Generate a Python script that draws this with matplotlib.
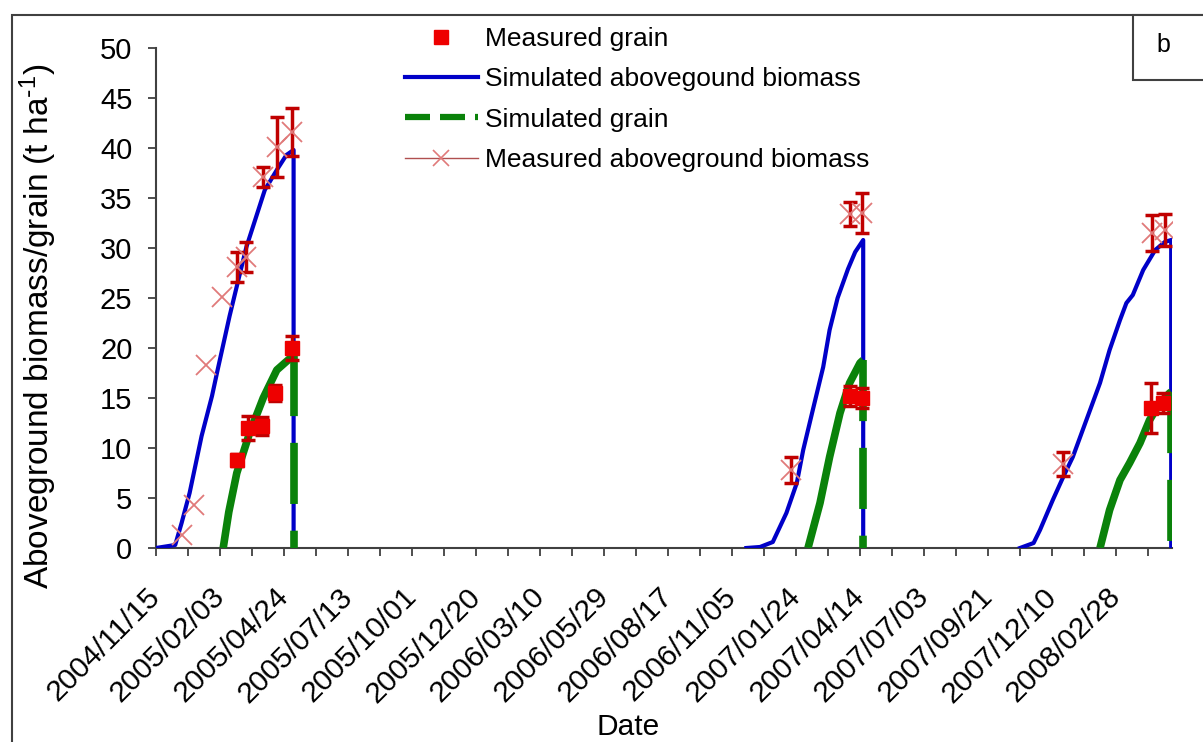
import numpy as np
import matplotlib
matplotlib.use('Agg')
import matplotlib.pyplot as plt
import matplotlib.dates as mdates
from matplotlib.lines import Line2D
from matplotlib.patches import Rectangle
from matplotlib.ticker import FixedLocator, NullFormatter

plt.rcParams['font.family'] = ['Liberation Sans', 'DejaVu Sans']
plt.rcParams['mathtext.default'] = 'regular'

START = np.datetime64('2004-11-15')

# simulated aboveground biomass (days after 2004/11/15), one list per season
bio_days_1 = [0, 24, 32, 42, 57, 70, 77, 92, 102, 113, 136, 151, 163, 172, 172]
bio_vals_1 = [0, 0.3, 2.5, 5.5, 11.2, 15.2, 17.8, 23.2, 26.5, 30.1, 35.8, 37.8, 39.3, 39.8, 0]
bio_days_2 = [738, 755, 771, 788, 801, 809, 821, 834, 842, 852, 865, 874, 884, 884]
bio_vals_2 = [0, 0.1, 0.6, 3.5, 6.5, 9.8, 13.8, 18.1, 21.8, 25.0, 27.9, 29.6, 30.8, 0]
bio_days_3 = [1080, 1097, 1105, 1121, 1134, 1146, 1163, 1180, 1192, 1205, 1213, 1221, 1234, 1249, 1261, 1269, 1269]
bio_vals_3 = [0, 0.5, 1.8, 4.8, 7.1, 9.1, 12.8, 16.5, 19.8, 22.8, 24.5, 25.3, 27.8, 29.8, 30.6, 30.8, 0]

# simulated grain
grain_days_1 = [84, 91, 101, 117, 134, 151, 168, 171, 172, 172]
grain_vals_1 = [0, 3.6, 7.5, 11.5, 15.0, 17.8, 19.0, 19.2, 19.3, 0]
grain_days_2 = [815, 830, 842, 855, 867, 880, 884, 884]
grain_vals_2 = [0, 4.5, 9.1, 13.5, 16.5, 18.5, 18.8, 0]
grain_days_3 = [1180, 1192, 1205, 1217, 1230, 1242, 1255, 1267, 1269, 1269]
grain_vals_3 = [0, 3.8, 6.8, 8.5, 10.5, 12.8, 14.5, 15.5, 15.6, 0]

# measured grain
mg_days = [101, 115, 132, 149, 170, 867, 882, 1244, 1259]
mg_vals = [8.8, 12.0, 12.2, 15.5, 20.0, 15.2, 15.0, 14.0, 14.5]
mg_err = [0.6, 1.2, 0.9, 0.8, 1.2, 1.0, 1.0, 2.5, 1.0]

# measured aboveground biomass
mb_days = [32, 47, 63, 82, 101, 113, 134, 151, 170, 794, 867, 882, 1134, 1245, 1261]
mb_vals = [1.3, 4.3, 18.3, 25.1, 28.1, 29.1, 37.1, 40.1, 41.6, 7.8, 33.4, 33.5, 8.4, 31.5, 31.8]
mb_err = [0, 0, 0, 0, 1.5, 1.5, 1.0, 3.0, 2.4, 1.3, 1.2, 2.0, 1.2, 1.8, 1.6]

label_days = list(range(0, 1201, 80))
minor_days = list(range(40, 1241, 80))
x_end = 1270

BLUE = '#0000c8'
GREEN = '#0a820a'
RED = '#ee0000'
ERR = '#c00000'
XCOL = '#e07a7a'


def to_date(days):
    return START + np.array(days).astype('timedelta64[D]')


fig = plt.figure(figsize=(12.03, 7.42), dpi=100)
ax = fig.add_axes([156 / 1203, 1 - 548 / 742, (1172 - 156) / 1203, 500 / 742])

for d, v in [(bio_days_1, bio_vals_1), (bio_days_2, bio_vals_2), (bio_days_3, bio_vals_3)]:
    ax.plot(to_date(d), v, color=BLUE, lw=3, zorder=3)

dash = (8, 3.5)
for d, v in [(grain_days_1, grain_vals_1), (grain_days_2, grain_vals_2), (grain_days_3, grain_vals_3)]:
    ax.plot(to_date(d[:-1]), v[:-1], color=GREEN, lw=5.5, zorder=4, solid_capstyle='butt')
    ax.plot(to_date(d[-2:]), v[-2:], color=GREEN, lw=5.5, zorder=4, dashes=dash, dash_capstyle='butt')

mg_d = to_date(mg_days)
ax.errorbar(mg_d, mg_vals, yerr=mg_err, fmt='none', ecolor=ERR, elinewidth=2.5,
            capsize=5, capthick=2.5, zorder=5)
ax.plot(mg_d, mg_vals, ls='none', marker='s', ms=10, color=RED, mec=RED, zorder=6)

mb_err = np.array(mb_err)
mb_d = to_date(mb_days)
has_err = mb_err > 0
ax.errorbar(mb_d[has_err], np.array(mb_vals)[has_err], yerr=mb_err[has_err], fmt='none',
            ecolor=ERR, elinewidth=2.5, capsize=5, capthick=2.5, zorder=5)
ax.plot(mb_d, mb_vals, ls='none', marker='x', ms=15, mew=1.3, color=XCOL, zorder=6)

# axes styling
ax.set_ylim(0, 50)
ax.set_xlim(to_date([0])[0], to_date([x_end])[0])
ax.set_yticks(np.arange(0, 51, 5))
ax.xaxis.set_major_locator(FixedLocator(mdates.date2num(to_date(label_days))))
ax.xaxis.set_minor_locator(FixedLocator(mdates.date2num(to_date(minor_days))))
ax.xaxis.set_major_formatter(mdates.DateFormatter('%Y/%m/%d'))
ax.xaxis.set_minor_formatter(NullFormatter())
for s in ['top', 'right']:
    ax.spines[s].set_visible(False)
for s in ['left', 'bottom']:
    ax.spines[s].set_color('#404040')
    ax.spines[s].set_linewidth(1.5)
ax.tick_params(axis='y', which='both', direction='out', length=6, width=1.3, color='#404040',
               labelsize=21, pad=11)
ax.tick_params(axis='x', which='both', direction='out', length=6, width=1.3, color='#404040',
               labelsize=21.5, pad=26)
for lab in ax.get_xticklabels():
    lab.set_rotation(45)
    lab.set_ha('right')
    lab.set_va('center')
    lab.set_rotation_mode('anchor')

ax.set_ylabel(r'Aboveground biomass/grain (t ha$^{\text{-}1}$)', fontsize=24)
ax.yaxis.set_label_coords(-0.095, 0.444)
fig.text(628 / 1203, 1 - 727 / 742, 'Date', fontsize=21.5, ha='center', va='center')

handles = [
    Line2D([], [], ls='none', marker='s', ms=10, color=RED),
    Line2D([], [], color=BLUE, lw=3),
    Line2D([], [], color=GREEN, lw=4.5, dashes=(4, 1.6)),
    Line2D([], [], color='#b05050', lw=1, marker='x', ms=12, mec=XCOL, mew=1.2),
]
labels = ['Measured grain', 'Simulated abovegound biomass', 'Simulated grain',
          'Measured aboveground biomass']
fig.legend(handles, labels, loc='upper left', bbox_to_anchor=(405 / 1203, 1 - 27 / 742),
           frameon=False, fontsize=19, handlelength=2.75, handletextpad=0.3,
           labelspacing=0.62, borderpad=0, borderaxespad=0)

# outer frame and panel letter box
fig.add_artist(Rectangle((12 / 1203, -0.05), 1.2, (742 - 15) / 742 + 0.05,
                         transform=fig.transFigure, fill=False, ec='#404040', lw=1.5))
fig.add_artist(Rectangle((1133 / 1203, 1 - 80 / 742), 0.2, 65 / 742,
                         transform=fig.transFigure, fill=True, fc='white', ec='#404040', lw=1.5))
fig.text(1163 / 1203, 1 - 45 / 742, 'b', fontsize=18, ha='center', va='center')

fig.savefig('out.png', dpi=100)
